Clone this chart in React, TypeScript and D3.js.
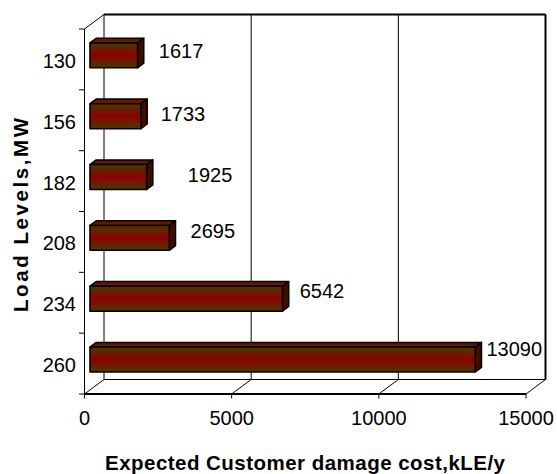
import React from "react";
import * as d3 from "d3";

// Load levels (MW) and expected customer damage cost (kLE/y)
const loadLevels = ["130", "156", "182", "208", "234", "260"];
const damageCost = [1617, 1733, 1925, 2695, 6542, 13090];
const xTicks = [0, 5000, 10000, 15000];

// Per-label placement tweaks for the value labels (px)
const labelNudgeX = [15, 13.5, 35, 15, 11, 5];
const labelNudgeY = [-1.4, 0.7, 0.9, -3.9, -4.7, -7.5];

const W = 557;
const H = 474;
const FONT = "Arial, 'Liberation Sans', Helvetica, sans-serif";

// Front plane of the 3D plot box and the depth offset to its back plane
const front = { left: 84.5, right: 526, top: 29, bottom: 394 };
const depth = { dx: 19.5, dy: -14.5 };
// Bars sit between these fractions of the box depth
const barZ0 = 0.28;
const barZ1 = 0.6;
const barThick = 0.41;

export default function App() {
  const x = d3.scaleLinear().domain([0, 15000]).range([front.left, front.right]);
  const y = d3
    .scaleBand<string>()
    .domain(loadLevels)
    .range([front.top, front.bottom])
    .padding(0);
  const bw = y.bandwidth();

  const back = (px: number, py: number): [number, number] => [px + depth.dx, py + depth.dy];
  const backLeft = back(front.left, front.top);
  const backRight = back(front.right, front.bottom);

  const line = (p: [number, number][]) => d3.line()(p) as string;
  const poly = (p: [number, number][]) => (d3.line()(p) as string) + "Z";

  const ddx = (barZ1 - barZ0) * depth.dx;
  const ddy = (barZ1 - barZ0) * depth.dy;

  const boundaries = [...loadLevels.map((c) => y(c) as number), front.bottom];

  return (
    <svg width={W} height={H} style={{ position: "absolute", left: 0, top: 0, background: "#fff" }}>
      <defs>
        <linearGradient id="barFront" x1="0" y1="0" x2="0" y2="1">
          <stop offset="0" stopColor="#4a3a00" />
          <stop offset="0.5" stopColor="#8c0000" />
          <stop offset="1" stopColor="#4a3a00" />
        </linearGradient>
        <linearGradient id="barTop" x1="0" y1="0" x2="0" y2="1">
          <stop offset="0" stopColor="#7a0a00" />
          <stop offset="1" stopColor="#5a2000" />
        </linearGradient>
      </defs>

      {/* back wall with vertical gridlines */}
      {xTicks.map((t) => {
        const [bx, by] = back(x(t), front.top);
        return (
          <path
            key={"g" + t}
            d={line([
              [bx, by],
              [bx, backRight[1]],
            ])}
            stroke="#000"
            strokeWidth={1}
            fill="none"
          />
        );
      })}
      <path
        d={line([
          [backLeft[0], backLeft[1]],
          [backRight[0], backLeft[1]],
        ])}
        stroke="#000"
        strokeWidth={2}
        fill="none"
      />
      <path
        d={line([
          [backRight[0], backLeft[1]],
          [backRight[0], backRight[1]],
        ])}
        stroke="#000"
        strokeWidth={2}
        fill="none"
      />

      {/* floor */}
      <path
        d={line([
          [backLeft[0], backRight[1]],
          [backRight[0], backRight[1]],
        ])}
        stroke="#000"
        strokeWidth={1}
        fill="none"
      />
      {xTicks.map((t) => {
        const [bx, by] = back(x(t), front.bottom);
        return (
          <path
            key={"f" + t}
            d={line([
              [bx, by],
              [x(t), front.bottom],
            ])}
            stroke="#000"
            strokeWidth={1}
            fill="none"
          />
        );
      })}

      {/* left wall */}
      <path
        d={line([
          [front.left, front.bottom],
          [front.left, front.top],
          [backLeft[0], backLeft[1]],
        ])}
        stroke="#000"
        strokeWidth={1}
        fill="none"
      />

      {/* bars */}
      {loadLevels.map((c, i) => {
        const v = damageCost[i];
        const x0 = x(0) + barZ0 * depth.dx;
        const x1 = x(v) + barZ0 * depth.dx;
        const yc = (y(c) as number) + bw / 2 + barZ0 * depth.dy;
        const h = bw * barThick;
        const top = yc - h / 2;
        const bottom = yc + h / 2;
        return (
          <g key={c} stroke="#000" strokeWidth={1.5} strokeLinejoin="round">
            <path
              d={poly([
                [x0, top],
                [x1, top],
                [x1 + ddx, top + ddy],
                [x0 + ddx, top + ddy],
              ])}
              fill="url(#barTop)"
            />
            <path
              d={poly([
                [x1, top],
                [x1 + ddx, top + ddy],
                [x1 + ddx, bottom + ddy],
                [x1, bottom],
              ])}
              fill="#3f0c00"
            />
            <rect x={x0} y={top} width={x1 - x0} height={h} fill="url(#barFront)" />
          </g>
        );
      })}

      {/* value labels */}
      {loadLevels.map((c, i) => {
        const v = damageCost[i];
        const xe = x(v) + barZ1 * depth.dx;
        const yc = (y(c) as number) + bw / 2;
        return (
          <text
            key={"l" + c}
            x={xe + labelNudgeX[i]}
            y={yc + labelNudgeY[i]}
            fontFamily={FONT}
            fontSize={20}
            fill="#000"
          >
            {v}
          </text>
        );
      })}

      {/* y axis ticks and labels */}
      {boundaries.map((b, i) => (
        <path
          key={"yt" + i}
          d={line([
            [front.left - 5.5, b],
            [front.left, b],
          ])}
          stroke="#000"
          strokeWidth={1}
        />
      ))}
      {loadLevels.map((c) => (
        <text
          key={"yl" + c}
          x={76}
          y={(y(c) as number) + bw / 2 + 8.5}
          textAnchor="end"
          fontFamily={FONT}
          fontSize={20}
          fill="#000"
        >
          {c}
        </text>
      ))}

      {/* x axis line, ticks and labels */}
      <path
        d={line([
          [front.left, front.bottom],
          [front.right, front.bottom],
        ])}
        stroke="#000"
        strokeWidth={2}
        fill="none"
      />
      {xTicks.map((t) => (
        <g key={"xt" + t}>
          <path
            d={line([
              [x(t), front.bottom],
              [x(t), front.bottom + 4.5],
            ])}
            stroke="#000"
            strokeWidth={1}
          />
          <text
            x={x(t)}
            y={425}
            textAnchor="middle"
            fontFamily={FONT}
            fontSize={20}
            fill="#000"
          >
            {t}
          </text>
        </g>
      ))}

      {/* axis titles */}
      <text
        x={105}
        y={470}
        textLength={400}
        lengthAdjust="spacing"
        fontFamily={FONT}
        fontSize={20.5}
        fontWeight="bold"
        fill="#000"
      >
        Expected Customer damage cost,kLE/y
      </text>
      <text
        transform="translate(28,312) rotate(-90)"
        x={0}
        y={0}
        textLength={194}
        lengthAdjust="spacing"
        fontFamily={FONT}
        fontSize={20.5}
        fontWeight="bold"
        fill="#000"
      >
        Load Levels,MW
      </text>
    </svg>
  );
}
